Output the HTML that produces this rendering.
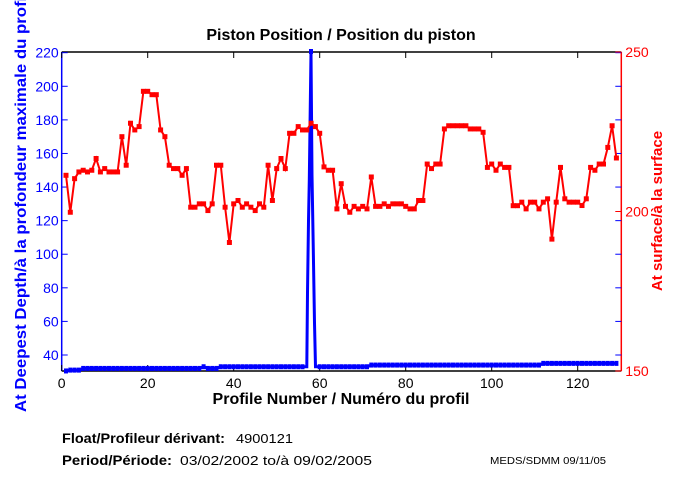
<!DOCTYPE html>
<html><head><meta charset="utf-8"><style>
body{margin:0;background:#fff;}
svg{display:block;font-family:"Liberation Sans",Arial,sans-serif;}
</style></head><body>
<svg id="s" width="680" height="500" viewBox="0 0 680 500" xmlns="http://www.w3.org/2000/svg">
<rect width="680" height="500" fill="#fff"/>
<text x="341" y="40" font-size="16" font-weight="bold" text-anchor="middle">Piston Position / Position du piston</text>
<g id="ax"></g>
<g id="data"></g>
<text x="341" y="404" font-size="16" font-weight="bold" text-anchor="middle">Profile Number / Numéro du profil</text>
<text transform="translate(26,412) rotate(-90)" font-size="16" font-weight="bold" fill="#0000ff" textLength="420" lengthAdjust="spacingAndGlyphs">At Deepest Depth/à la profondeur maximale du profil</text>
<text transform="translate(662,211) rotate(-90)" font-size="15" font-weight="bold" fill="#ff0000" text-anchor="middle">At surface/à la surface</text>
<text x="62" y="443" font-size="14" font-weight="bold" textLength="163" lengthAdjust="spacingAndGlyphs">Float/Profileur dérivant:</text>
<text x="236" y="443" font-size="13" textLength="57" lengthAdjust="spacingAndGlyphs">4900121</text>
<text x="62" y="465" font-size="14" font-weight="bold" textLength="110" lengthAdjust="spacingAndGlyphs">Period/Période:</text>
<text x="180" y="465" font-size="13" textLength="192" lengthAdjust="spacingAndGlyphs">03/02/2002  to/à  09/02/2005</text>
<text x="490" y="464" font-size="10" textLength="116" lengthAdjust="spacingAndGlyphs">MEDS/SDMM  09/11/05</text>
</svg>
<script>
var NS="http://www.w3.org/2000/svg";
function el(p,t,a,txt){var e=document.createElementNS(NS,t);for(var k in a)e.setAttribute(k,a[k]);if(txt!==undefined)e.textContent=txt;p.appendChild(e);return e;}
var ax=document.getElementById('ax'),dg=document.getElementById('data');
var L=61.7,R=621.3,T=52,B=371;
function X(i){return L+4.3*i;}
function YL(v){return 52.7+(220-v)*1.6794;}
el(ax,'line',{x1:L,y1:T,x2:R,y2:T,stroke:'#000','stroke-width':1.5});
el(ax,'line',{x1:L,y1:B,x2:R,y2:B,stroke:'#000','stroke-width':1.5});
el(ax,'line',{x1:L,y1:T,x2:L,y2:B,stroke:'#0000ff','stroke-width':1.5});
el(ax,'line',{x1:R,y1:T,x2:R,y2:B,stroke:'#ff0000','stroke-width':1.5});
for(var i=0;i<=120;i+=20){var x=X(i);
 el(ax,'line',{x1:x,y1:B,x2:x,y2:B-6,stroke:'#000'});
 el(ax,'line',{x1:x,y1:T,x2:x,y2:T+6,stroke:'#000'});
 el(ax,'text',{x:x,y:B+17,'font-size':14,'text-anchor':'middle'},String(i));}
for(var v=40;v<=220;v+=20){var y=YL(v);
 el(ax,'line',{x1:L,y1:y,x2:L+6,y2:y,stroke:'#0000ff'});
 el(ax,'line',{x1:R-6,y1:y,x2:R,y2:y,stroke:'#0000ff'});
 el(ax,'text',{x:L-3,y:y+5,'font-size':14,'text-anchor':'end',fill:'#0000ff'},String(v));}
[[150,371],[200,211.5],[250,52]].forEach(function(a){
 el(ax,'line',{x1:R-6,y1:a[1],x2:R,y2:a[1],stroke:'#ff0000'});
 el(ax,'text',{x:R+4,y:a[1]+5,'font-size':14,fill:'#ff0000'},String(a[0]));});
var r=[147,125,145,149,150,149,150,157,149,151,149,149,149,170,153,178,174,176,197,197,195,195,174,170,153,151,151,147,151,128,128,130,130,126,130,153,153,128,107,130,132,128,130,128,126,130,128,153,132,151,157,151,172,172,176,174,174,178,176,172,152,150,150,127,142,128.5,125,128.5,127,128.5,127,146,128.5,128.5,130,128.5,130,130,130,128.5,127,127,132,132,153.7,151,153.7,153.7,174.6,176.5,176.5,176.5,176.5,176.5,174.6,174.6,174.6,172.6,151.7,153.7,150,153.7,151.7,151.7,128.9,128.9,131,127,131,131,127,131,133,109,131,151.7,133,131,131,131,129,133,151.7,150,153.7,153.7,163.6,176.5,157.3];
var pts=r.map(function(v,k){return [X(k+1),YL(v)];});
var b=[];
for(var i=1;i<=129;i++){var v;
 if(i<=4)v=31;else if(i<=32)v=32;else if(i==33)v=33;else if(i<=36)v=32;else if(i<=71)v=33;else if(i<=111)v=34;else v=35;
 if(i==1)v=30.5;
 b.push([X(i),YL(v),i]);}
var bp=[];b.forEach(function(p){
 if(p[2]==57){bp.push([306.8,p[1]],[307.5,293],[308.5,221],[309.3,180],[311,52],[312,175],[313.3,250],[314.5,323],[315.5,p[1]]);}
 else if(p[2]==58||p[2]==59){} else bp.push([p[0],p[1]]);});
el(dg,'polyline',{points:bp.map(function(p){return p.join(',');}).join(' '),fill:'none',stroke:'#0000ff','stroke-width':3});
b.forEach(function(p){if(p[2]<57||p[2]>59)el(dg,'rect',{x:p[0]-2,y:p[1]-2.5,width:4,height:5,fill:'#0000ff'});});
el(dg,'rect',{x:309,y:49,width:4,height:5,fill:'#0000ff'});
el(dg,'polyline',{points:pts.map(function(p){return p.join(',');}).join(' '),fill:'none',stroke:'#ff0000','stroke-width':2});
pts.forEach(function(p){el(dg,'rect',{x:p[0]-2.5,y:p[1]-2.5,width:5,height:5,fill:'#ff0000'});});
</script>
</body></html>
